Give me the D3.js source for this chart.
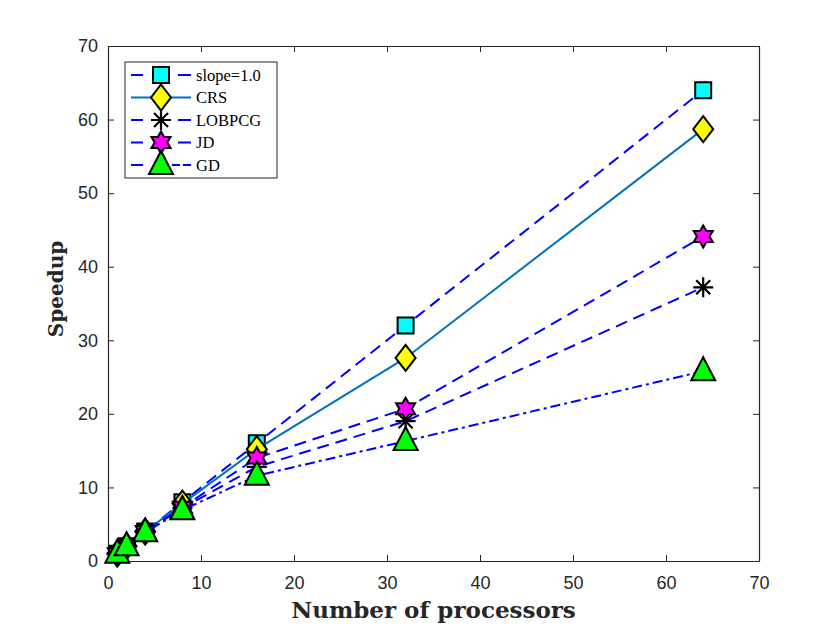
<!DOCTYPE html>
<html>
<head>
<meta charset="utf-8">
<script src="https://cdn.jsdelivr.net/npm/d3@7"></script>
<style>
  body { margin: 0; background: #fff; }
  svg { display: block; }
  .tick text { font-family: "Liberation Sans", Arial, sans-serif; font-size: 18px; fill: #262626; }
  .axis path, .axis line { stroke: #262626; }
  .lbl { font-family: "DejaVu Serif", "Liberation Serif", serif; font-weight: bold; fill: #262626; }
  .leg { font-family: "Liberation Serif", "DejaVu Serif", serif; font-size: 16.5px; fill: #000; }
</style>
</head>
<body>
<svg id="chart" width="840" height="630"></svg>
<script>
const processors = [1, 2, 4, 8, 16, 32, 64];
const slopeOne = [1, 2, 4, 8, 16, 32, 64];
const crs = [1, 2, 4, 7.8, 15.2, 27.6, 58.7];
const lobpcg = [1, 2, 4, 7.2, 12.8, 19.0, 37.2];
const jd = [1, 2, 4, 7.3, 14.0, 20.7, 44.1];
const gd = [1, 2, 3.9, 6.9, 11.6, 16.3, 25.8];
const xTicks = [0, 10, 20, 30, 40, 50, 60, 70];
const yTicks = [0, 10, 20, 30, 40, 50, 60, 70];

const series = [
  { name: "slope=1.0", values: slopeOne, color: "#0000ff", dash: "12,7", marker: "square", fill: "#00ffff" },
  { name: "CRS", values: crs, color: "#0072bd", dash: null, marker: "diamond", fill: "#ffff00" },
  { name: "LOBPCG", values: lobpcg, color: "#0000ff", dash: "12,7", marker: "asterisk", fill: "none" },
  { name: "JD", values: jd, color: "#0000ff", dash: "12,7", marker: "hexagram", fill: "#ff00ff" },
  { name: "GD", values: gd, color: "#0000ff", dash: "10,4,3,4", marker: "triangle", fill: "#00ff00" },
];

const plotLeft = 108, plotRight = 759, plotTop = 46, plotBottom = 561;
const svg = d3.select("#chart");
const x = d3.scaleLinear().domain([0, 70]).range([plotLeft, plotRight]);
const y = d3.scaleLinear().domain([0, 70]).range([plotBottom, plotTop]);

// marker paths, centred on 0,0
function markerPath(kind) {
  switch (kind) {
    case "square": return "M-8,-8H8V8H-8Z";
    case "diamond": return "M0,-13L10,0L0,13L-10,0Z";
    case "triangle": return "M0,-14L12,9H-12Z";
    case "asterisk": return "M0,-10V10M-10,0H10M-7,-7L7,7M-7,7L7,-7";
    case "hexagram": {
      const pts = [];
      for (let i = 0; i < 12; i++) {
        const r = i % 2 === 0 ? 11 : 6.3;
        const a = -Math.PI / 2 + i * Math.PI / 6;
        pts.push([r * Math.cos(a), r * Math.sin(a)]);
      }
      return "M" + pts.map(p => p.join(",")).join("L") + "Z";
    }
  }
}

function drawMarker(g, s, cx, cy) {
  g.append("path")
    .attr("d", markerPath(s.marker))
    .attr("transform", `translate(${cx},${cy})`)
    .attr("fill", s.fill)
    .attr("stroke", "#000")
    .attr("stroke-width", s.marker === "asterisk" ? 2.2 : 2)
    .attr("stroke-linejoin", "miter");
}

// axes
const xAxis = d3.axisBottom(x).tickValues(xTicks).tickSizeInner(-6).tickSizeOuter(0).tickPadding(15);
const yAxis = d3.axisLeft(y).tickValues(yTicks).tickSizeInner(-6).tickSizeOuter(0).tickPadding(10);

svg.append("g").attr("class", "axis").attr("transform", `translate(0,${plotBottom})`).call(xAxis);
svg.append("g").attr("class", "axis").attr("transform", `translate(${plotLeft},0)`).call(yAxis);
svg.append("g").attr("class", "axis").attr("transform", `translate(0,${plotTop})`)
  .call(d3.axisTop(x).tickValues(xTicks).tickSizeInner(-6).tickSizeOuter(0).tickFormat(""));
svg.append("g").attr("class", "axis").attr("transform", `translate(${plotRight},0)`)
  .call(d3.axisRight(y).tickValues(yTicks).tickSizeInner(-6).tickSizeOuter(0).tickFormat(""));
svg.selectAll(".axis path.domain").attr("stroke-width", 1.2);

// lines and markers
const line = d3.line().x((d, i) => x(processors[i])).y(d => y(d));
series.forEach(s => {
  const g = svg.append("g");
  g.append("path")
    .datum(s.values)
    .attr("d", line)
    .attr("fill", "none")
    .attr("stroke", s.color)
    .attr("stroke-width", 2)
    .attr("stroke-dasharray", s.dash);
  s.values.forEach((v, i) => drawMarker(g, s, x(processors[i]), y(v)));
});

// legend
const legend = svg.append("g");
legend.append("rect")
  .attr("x", 125).attr("y", 62).attr("width", 152).attr("height", 116)
  .attr("fill", "#fff").attr("stroke", "#262626").attr("stroke-width", 1);
series.forEach((s, i) => {
  const ly = 75 + i * 22.5;
  let legDash = null;
  if (s.dash) legDash = s.marker === "triangle" ? "12,29,8,3,8" : "12,35,13";
  legend.append("line")
    .attr("x1", 131).attr("x2", 191).attr("y1", ly).attr("y2", ly)
    .attr("stroke", s.color).attr("stroke-width", 2)
    .attr("stroke-dasharray", legDash);
  drawMarker(legend, s, 161, ly);
  legend.append("text").attr("class", "leg")
    .attr("x", 196).attr("y", ly).attr("dy", "0.35em").text(s.name);
});

// axis labels
svg.append("text").attr("class", "lbl")
  .attr("x", (plotLeft + plotRight) / 2).attr("y", 618)
  .attr("font-size", 23)
  .attr("text-anchor", "middle").text("Number of processors");
svg.append("text").attr("class", "lbl")
  .attr("transform", `translate(63,289) rotate(-90)`)
  .attr("font-size", 20)
  .attr("text-anchor", "middle").text("Speedup");
</script>
</body>
</html>
